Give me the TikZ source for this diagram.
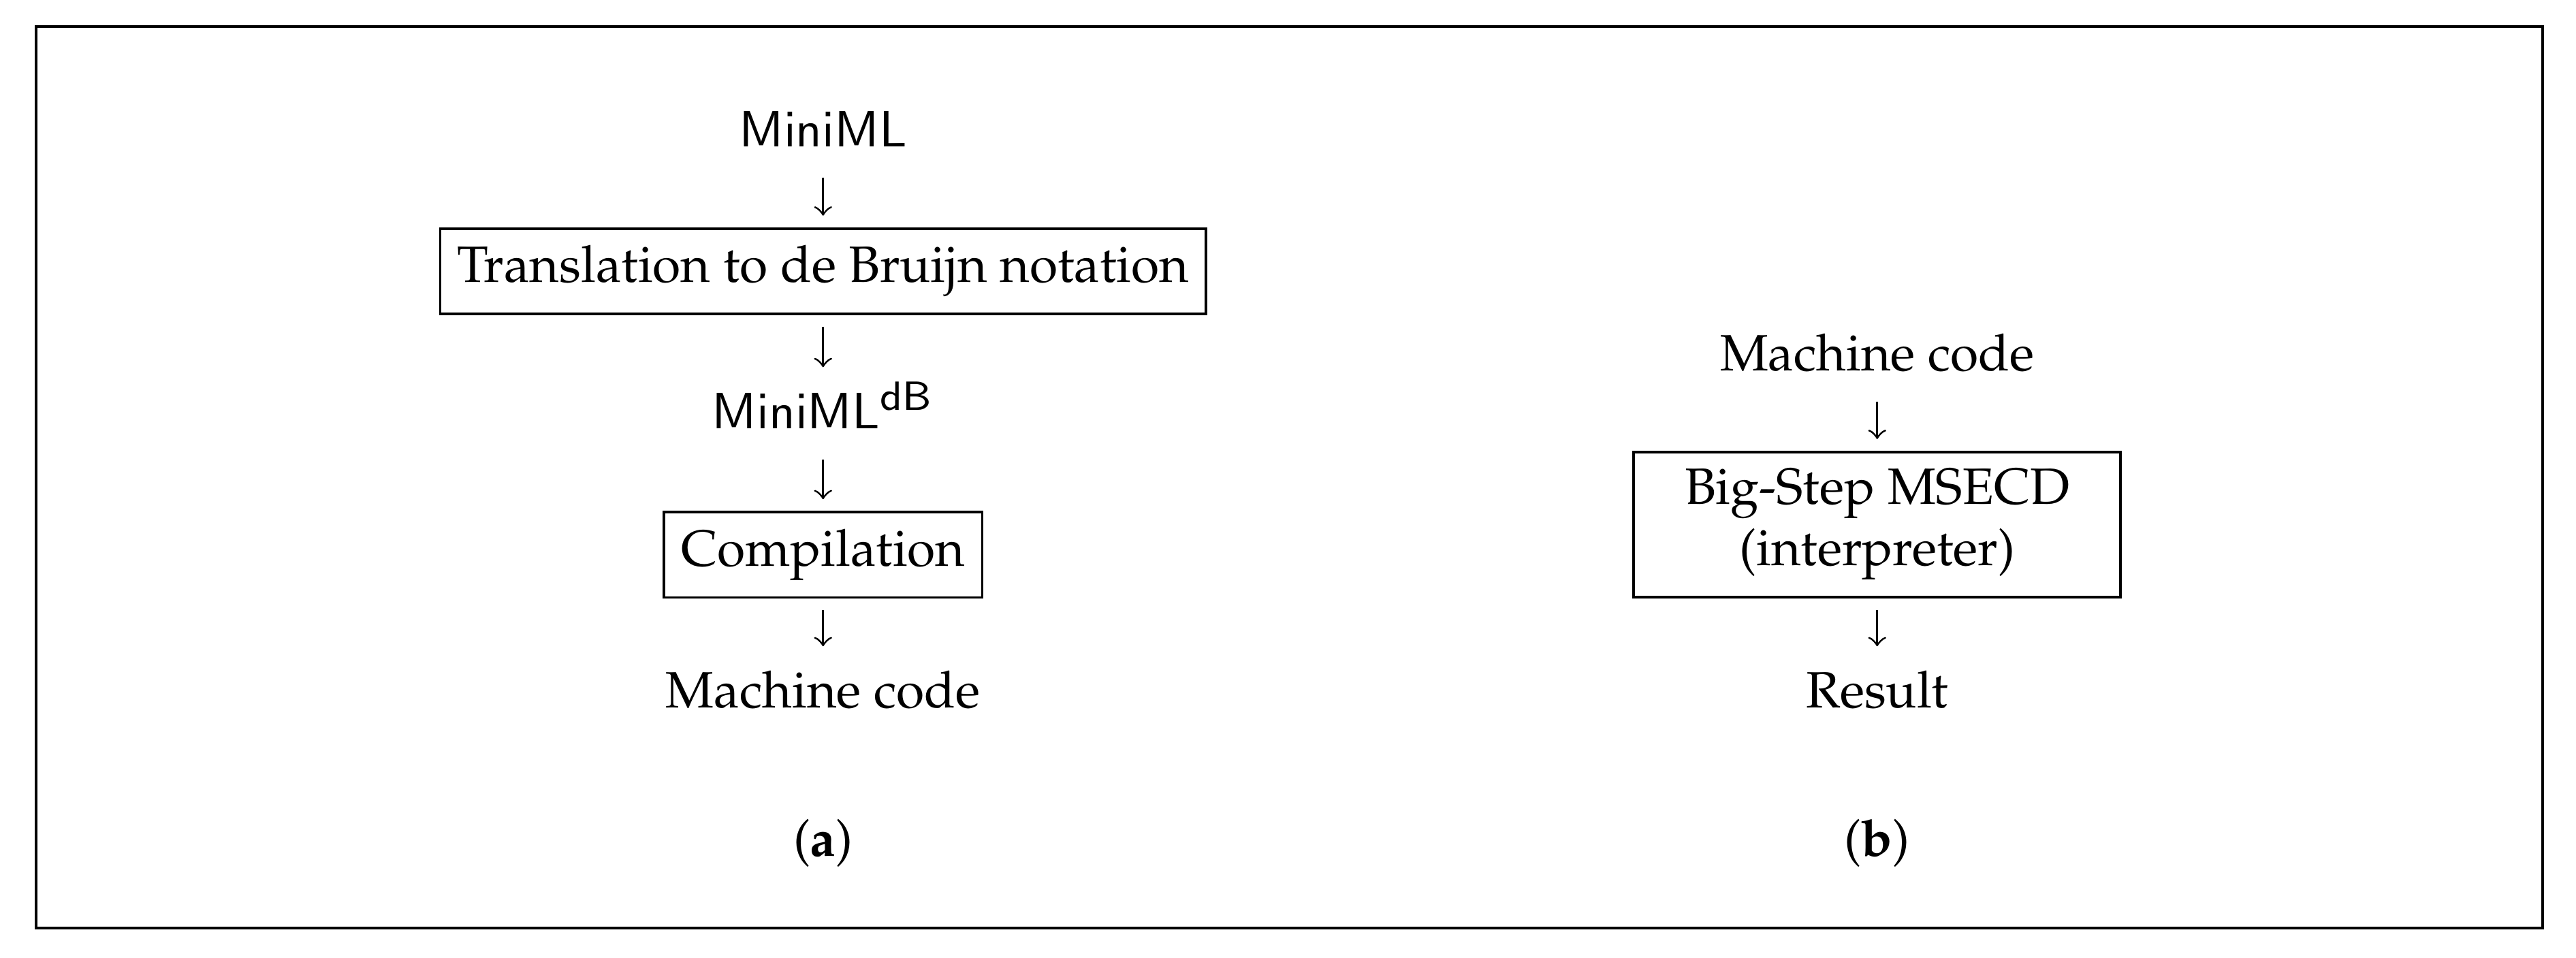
\documentclass[tikz,border=0pt]{standalone}
\usepackage[T1]{fontenc}
\usepackage{mathpazo}
\usepackage{tikz}

\newcommand{\lang}[1]{{\fontencoding{OT1}\fontfamily{cmss}\selectfont #1}}

\tikzset{
  stage/.style={draw, line width=0.5pt, inner sep=3.33pt, align=center},
  word/.style={inner sep=0pt, text height=9.6pt, text depth=3.5pt},
  down/.style={->, line width=0.4pt, shorten <=0.08cm, shorten >=0.08cm}
}

\begin{document}
\begin{tikzpicture}
	\useasboundingbox (0,0) rectangle (17.73,6.593);
	\draw [line width=0.53pt] (0.248,0.206) rectangle (17.50,6.410);

	% (a) compiler
	\node [word, anchor=base] (src) at (5.665,5.581) {\lang{MiniML}};
	\node [stage] (trans) at (5.665,4.726) {Translation to de Bruijn notation};
	\node [word, anchor=base] (dbsrc) at (5.665,3.641) {\lang{MiniML}\textsuperscript{\lang{dB}}};
	\node [stage] (comp) at (5.665,2.774) {Compilation};
	\node [word, anchor=base] (codea) at (5.665,1.720) {Machine code};
	\node [anchor=base] (capa) at (5.665,0.698) {(\textbf{a})};

	\draw [down] (src) -- (trans);
	\draw [down] (trans) -- (dbsrc);
	\draw [down] (dbsrc) -- (comp);
	\draw [down] (comp) -- (codea);

	% (b) interpreter
	\node [word, anchor=base] (codeb) at (12.92,4.039) {Machine code};
	\node [stage, minimum width=3.35cm] (msecd) at (12.92,2.983) {Big-Step MSECD\\(interpreter)};
	\node [word, anchor=base] (res) at (12.92,1.720) {Result};
	\node [anchor=base] (capb) at (12.92,0.698) {(\textbf{b})};

	\draw [down] (codeb) -- (msecd);
	\draw [down] (msecd) -- (res);
\end{tikzpicture}
\end{document}
